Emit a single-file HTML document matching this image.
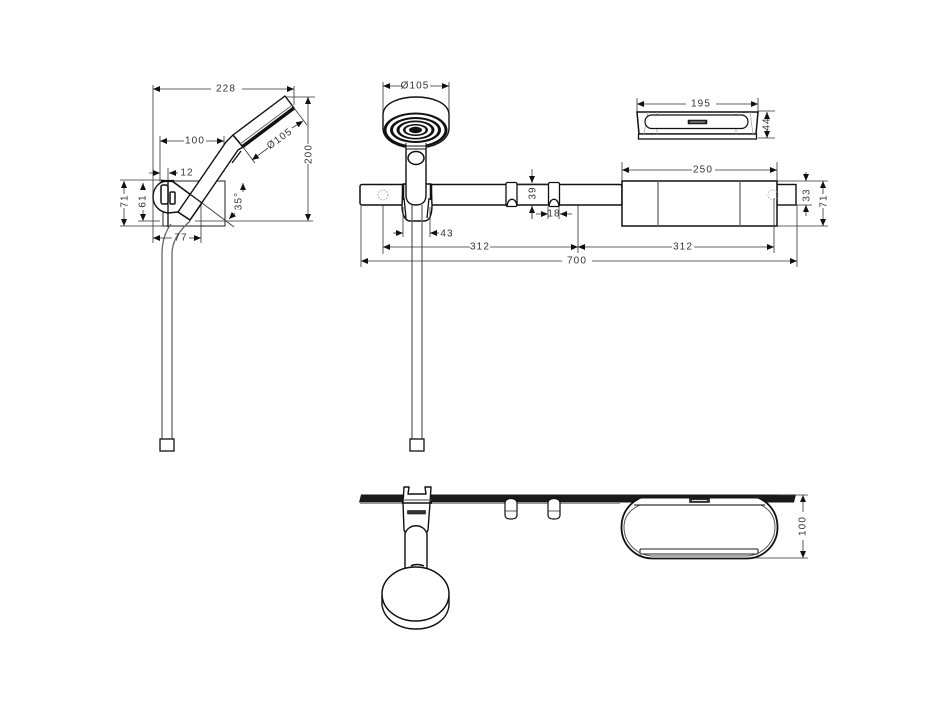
<!DOCTYPE html>
<html><head><meta charset="utf-8">
<style>
html,body{margin:0;padding:0;background:#fff}
svg{display:block}
text{font-family:"Liberation Sans",sans-serif;font-size:10px;letter-spacing:1.1px;fill:#333;text-anchor:middle;dominant-baseline:central}
.d{stroke:#333;stroke-width:.8;fill:none}
.a{stroke:#333;stroke-width:.8;fill:none;marker-end:url(#m)}
.o{stroke:#111;stroke-width:1.4;fill:#fff;stroke-linejoin:round}
.n{stroke:#111;stroke-width:1.3;fill:none}
.g{stroke:#666;stroke-width:1.3;fill:none}
</style></head><body>
<svg width="949" height="711" viewBox="0 0 949 711" xmlns="http://www.w3.org/2000/svg">
<defs><marker id="m" markerUnits="userSpaceOnUse" markerWidth="8" markerHeight="7" refX="7" refY="3" orient="auto-start-reverse"><path d="M0,0L7,3L0,6z" fill="#111"/></marker></defs>

<!-- LEFT VIEW -->
<path class="d" d="M153,85V243M294,86V105M160,136V182M224,136V172M168,168V182M160,168V182M163,180H120M195,221H313M285,97H315M138,221H160M120,226H163M201,205V243"/>
<rect x="163" y="181" width="62" height="45" fill="none" stroke="#222" stroke-width="1"/>
<path class="o" d="M172,181H166C158,182 153,189 153,197C153,205 159,212 168,213L178,212L190,220L202,203Z"/>
<path d="M161,181H174" stroke="#111" stroke-width="2.200"/>
<path class="n" d="M168,181V227" stroke-width="1"/>
<rect x="161" y="185" width="7" height="19" rx="2" fill="#fff" stroke="#111" stroke-width="1.500"/>
<rect x="170" y="192" width="5" height="12" rx="1" fill="#fff" stroke="#111" stroke-width="1.500"/>
<path class="o" d="M226,142L178,212L190,220L238,150L243,147L233,135Z"/>
<path d="M172,181L202,203" stroke="#111" stroke-width="1.300" fill="none"/>
<path class="n" d="M241,151L232,163" stroke-width="1.800"/>
<path class="o" d="M233,135L285,96L294,108L243,147Z"/>
<path d="M242,147L294,108" stroke="#111" stroke-width="3.500" fill="none"/>
<path d="M240,144L291,106" stroke="#666" stroke-width="1" fill="none"/>
<path class="d" d="M202,203L234,227M243,147L255,163M294,108L307,125"/>
<path class="g" d="M171,224C165,232 162,242 162,254V439M190,221C178,232 172,242 172,254V439"/>
<rect x="160" y="439" width="14" height="12" fill="#fff" stroke="#111" stroke-width="1.300"/>
<path class="a" d="M211,89H153"/><path class="a" d="M242,89H294"/>
<text x="226" y="89">228</text>
<path class="a" d="M308,144V97"/><path class="a" d="M308,164V221"/>
<text x="309" y="154" transform="rotate(-90 309 154)">200</text>
<path class="a" d="M184,141H160"/><path class="a" d="M206,141H224"/>
<text x="195" y="141">100</text>
<path class="a" d="M268,148L252,160"/><path class="a" d="M292,128L303,121"/>
<text x="280" y="139" transform="rotate(-36 280 139)">Ø105</text>
<path class="a" d="M149,173H160"/><path class="a" d="M178,173H169"/>
<text x="187" y="173">12</text>
<path class="a" d="M124,194V181"/><path class="a" d="M124,208V226"/>
<text x="125" y="201" transform="rotate(-90 125 201)">71</text>
<path class="a" d="M143,190V183"/><path class="a" d="M143,210V221"/>
<text x="143" y="201" transform="rotate(-90 143 201)">61</text>
<path class="a" d="M172,238H153"/><path class="a" d="M189,238H201"/>
<text x="181" y="238">77</text>
<path class="a" d="M243,192V183"/><path class="a" d="M235,213L229,219"/>
<text x="239" y="201" transform="rotate(-90 239 201)">35°</text>

<!-- MAIN VIEW: BAR -->
<path class="d" d="M383,82V116M449,82V116"/>
<path class="a" d="M402,86H383"/><path class="a" d="M430,86H449"/>
<text x="415" y="86">Ø105</text>
<path class="d" d="M578,205V253M774,198V253M797,205V267M361,206V267M383,198V254"/>
<rect x="360" y="184.500" width="262" height="20.500" rx="2" fill="#fff" stroke="#111" stroke-width="1.500"/>
<circle cx="383" cy="195" r="5" fill="none" stroke="#888" stroke-width=".8" stroke-dasharray="1.500 1.500"/>
<!-- rings -->
<path class="d" d="M505,184H560"/>
<rect x="506" y="182.500" width="11" height="24" rx="1.500" fill="#fff" stroke="#111" stroke-width="1.300"/>
<path class="n" d="M507,206C508,197 516,197 517,206"/>
<rect x="548.500" y="182.500" width="11" height="24" rx="1.500" fill="#fff" stroke="#111" stroke-width="1.300"/>
<path class="n" d="M549,206C550,197 558,197 559,206"/>
<path class="d" d="M548,207V219M559,207V219M532,205V219"/>
<path class="a" d="M532,169V183"/><path class="a" d="M532,219V206"/>
<text x="533" y="193" transform="rotate(-90 533 193)">39</text>
<path class="a" d="M536,214H548"/><path class="a" d="M572,214H560"/>
<text x="554" y="214">18</text>
<!-- clamp -->
<path class="o" d="M403,184L402,206C402,214 405,221 410,221H424C430,221 432,214 432,205L431,184Z"/>
<path class="n" d="M404,198L406,218M429,198L427,218"/>
<path d="M403,184V200M431,184V200" stroke="#111" stroke-width="2.500"/>
<path class="g" d="M412,205V439M422,205V439"/>
<path class="o" d="M406,148V195C406,202 410,205 416,205C422,205 426,202 426,195V148"/>
<rect x="410" y="439" width="14" height="12" fill="#fff" stroke="#111" stroke-width="1.300"/>
<ellipse cx="416" cy="158" rx="8" ry="6.500" fill="#fff" stroke="#111" stroke-width="1.500"/>
<!-- head -->
<path class="o" d="M383,114C384,103 399,97 416,97C433,97 448,103 449,114V128C449,141 433,148 416,148C399,148 383,141 383,128Z"/>
<ellipse cx="415.500" cy="130" rx="32" ry="17.500" fill="#111"/>
<ellipse cx="415.500" cy="130" rx="29" ry="15.500" fill="#fff"/>
<ellipse cx="415.500" cy="130" rx="25.500" ry="13" fill="#111"/>
<ellipse cx="415.500" cy="130" rx="22.500" ry="11" fill="#fff"/>
<ellipse cx="415.500" cy="130" rx="19" ry="9.500" fill="#111"/>
<ellipse cx="415.500" cy="130" rx="16" ry="7.800" fill="#fff"/>
<ellipse cx="415.500" cy="130" rx="12.500" ry="6" fill="#111"/>
<ellipse cx="415.500" cy="130" rx="10" ry="4.500" fill="#fff"/>
<ellipse cx="415.500" cy="130" rx="6.500" ry="3.200" fill="#111"/>
<path d="M406,143V149H426V143" fill="#fff" stroke="#111" stroke-width="1"/>
<path d="M406,146H426" stroke="#111" stroke-width="1"/>
<!-- dims below bar -->
<path class="d" d="M403,207V237M430,207V237"/>
<path class="a" d="M393,233H403"/><path class="a" d="M439,233H430"/>
<text x="447" y="234">43</text>
<path class="a" d="M470,247H383"/><path class="a" d="M490,247H578"/>
<text x="480" y="247">312</text>
<path class="a" d="M672,247H578"/><path class="a" d="M694,247H774"/>
<text x="683" y="247">312</text>
<path class="a" d="M562,261H361"/><path class="a" d="M592,261H797"/>
<text x="577" y="261">700</text>

<!-- RIGHT TOP: SHELF TOP VIEW -->
<path class="d" d="M637,98V112M758,98V112M758,111H775M758,138H775"/>
<path class="a" d="M686,104H637"/><path class="a" d="M716,104H758"/>
<text x="701" y="104">195</text>
<path class="a" d="M767,119V112"/><path class="a" d="M767,130V138"/>
<text x="767" y="124" transform="rotate(-90 767 124)">44</text>
<path d="M637,112H758L756,134H639Z" fill="#fff" stroke="#111" stroke-width="1.500"/>
<rect x="638.500" y="134" width="118" height="5" fill="#fff" stroke="#111" stroke-width="1.300"/>
<path class="d" d="M648,112L644,134M750,112L753,134M657,112V134M736,112V134" style="stroke:#aaa"/>
<rect x="645" y="115" width="103" height="13.500" rx="6.700" fill="#fff" stroke="#111" stroke-width="1.200"/>
<rect x="688" y="120" width="19" height="4" fill="#222" stroke="#111" stroke-width=".5"/>
<path d="M690,122H705" stroke="#ccc" stroke-width=".8"/>

<!-- RIGHT: SHELF FRONT -->
<rect x="777" y="184.500" width="19" height="20.500" fill="#fff" stroke="#111" stroke-width="1.400"/>
<rect x="622" y="181" width="155" height="45" fill="#fff" stroke="#111" stroke-width="1.500"/>
<path class="g" d="M658,181V226M740,181V226"/>
<circle cx="773" cy="195" r="5" fill="none" stroke="#999" stroke-width=".8" stroke-dasharray="1.500 1.500"/>
<path class="d" d="M774,198V226"/>
<path class="d" d="M622,162V181M777,162V181M777,181H828M777,226H828M796,205H812"/>
<path class="a" d="M692,170H622"/><path class="a" d="M715,170H777"/>
<text x="703" y="170">250</text>
<path class="a" d="M806,172V181"/><path class="a" d="M806,216V205"/>
<text x="807" y="195" transform="rotate(-90 807 195)">33</text>
<path class="a" d="M823,194V181"/><path class="a" d="M823,208V226"/>
<text x="824" y="201" transform="rotate(-90 824 201)">71</text>

<!-- BOTTOM VIEW -->
<path d="M361,494.500H640V502.500H359Z" fill="#1a1a1a"/>
<path d="M760,494.500H796L794,502.500H760Z" fill="#1a1a1a"/>
<path d="M360,503.500H620" stroke="#999" stroke-width="1"/>
<path d="M505,503V515C505,518 507,519 511,519C515,519 517,518 517,515V503C517,497 505,497 505,503Z" fill="#fff" stroke="#111" stroke-width="1.200"/>
<path class="d" d="M505,511H517"/>
<path d="M548,503V515C548,518 550,519 554,519C558,519 560,518 560,515V503C560,497 548,497 548,503Z" fill="#fff" stroke="#111" stroke-width="1.200"/>
<path class="d" d="M548,511H560"/>
<!-- clamp top -->
<path class="o" d="M404,487H409L408,494H426L425,487H431L430,503L428,530L426,534H406L404,530L403,503Z"/>
<path class="g" d="M403,500H431"/>
<path d="M402,503H432" stroke="#111" stroke-width="1.500"/>
<rect x="407.500" y="510.500" width="18" height="3.500" fill="#333" stroke="#111" stroke-width=".6"/>
<path class="o" d="M405,569V534C408,523 424,523 427,534V569Z"/>
<path d="M411,566C414,564 420,564 424,566" stroke="#111" stroke-width="1.500" fill="none"/>
<path class="o" d="M382,596V605C384,619 398,629 416,629C434,629 448,619 449,605V596Z"/>
<ellipse cx="415.500" cy="594" rx="33.500" ry="27" fill="#fff" stroke="#111" stroke-width="1.500"/>
<!-- pill -->
<rect x="621.500" y="495.500" width="156" height="63" rx="31" fill="#fff" stroke="#111" stroke-width="1.800"/>
<path d="M640,505H761C771,510 775,518 775,527C775,542 763,555 747,556H652C636,555 624,542 624,527C624,518 629,510 640,505Z" fill="#fff" stroke="#555" stroke-width="1"/>
<path d="M620,494.500H780V498.500H620Z" fill="#1a1a1a"/>
<path d="M634,505H765" stroke="#333" stroke-width="1.200"/>
<rect x="689.500" y="498.500" width="20" height="4" fill="#333" stroke="#111" stroke-width=".6"/>
<path d="M692,500.500H707" stroke="#ddd" stroke-width="1"/>
<rect x="640" y="549" width="118" height="5" rx="1" fill="#fff" stroke="#222" stroke-width="1.100"/>
<path class="d" d="M778,495H808M755,558H808"/>
<path class="a" d="M803,512V495"/><path class="a" d="M803,540V558"/>
<text x="803" y="526" transform="rotate(-90 803 526)">100</text>
</svg>
</body></html>
